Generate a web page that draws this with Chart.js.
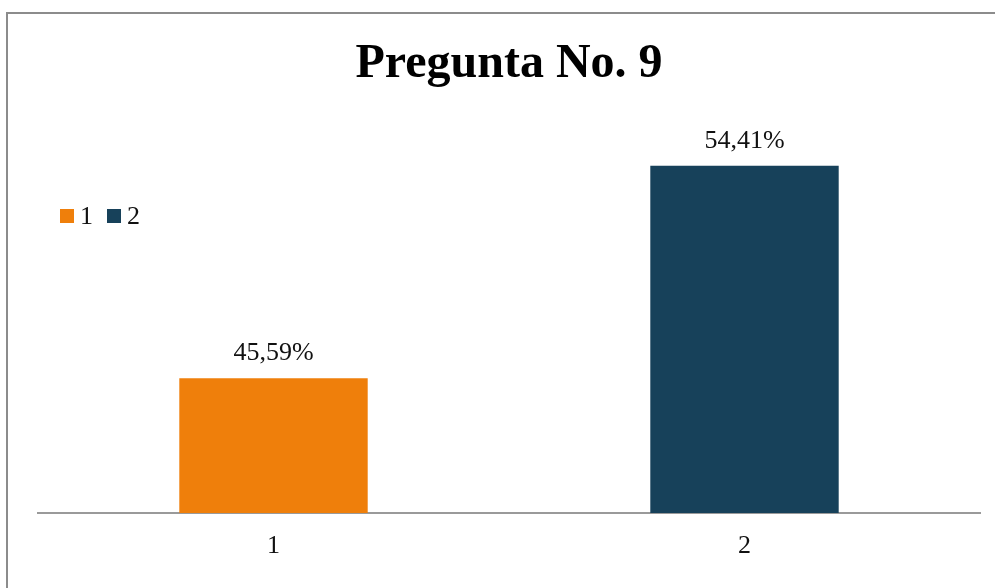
<!DOCTYPE html>
<html>
<head>
<meta charset="utf-8">
<style>
  html, body { margin: 0; padding: 0; background: #fff; }
  #wrap { position: relative; width: 995px; height: 588px; overflow: hidden; }
  canvas { display: block; }
</style>
<script src="https://cdn.jsdelivr.net/npm/chart.js@4/dist/chart.umd.min.js"></script>
</head>
<body>
<div id="wrap"><canvas id="chart" width="995" height="588"></canvas></div>
<script>
// Survey result for question 9
const chartTitle = 'Pregunta No. 9';
const categories = ['1', '2'];
const values = [45.59, 54.41];
const barColors = ['#EF7F0B', '#17415A'];

const serif = "'Liberation Serif', 'Times New Roman', serif";

// Percent format with comma decimal separator
const fmt = v => v.toFixed(2).replace('.', ',') + '%';

// Outer frame of the chart
const framePlugin = {
  id: 'frame',
  beforeDraw(chart) {
    const ctx = chart.ctx;
    ctx.save();
    ctx.strokeStyle = '#8c8c8c';
    ctx.lineWidth = 2;
    ctx.strokeRect(7, 13, chart.width + 20, chart.height + 20);
    ctx.restore();
  }
};

// Value labels above each bar
const valueLabels = {
  id: 'valueLabels',
  afterDatasetsDraw(chart) {
    const ctx = chart.ctx;
    const meta = chart.getDatasetMeta(0);
    ctx.save();
    ctx.font = '26px ' + serif;
    ctx.fillStyle = '#111';
    ctx.textAlign = 'center';
    ctx.textBaseline = 'alphabetic';
    meta.data.forEach((bar, i) => {
      ctx.fillText(fmt(values[i]), bar.x, bar.y - 18);
    });
    ctx.restore();
  }
};

// Horizontal legend overlaid at the upper left of the plot
const inlineLegend = {
  id: 'inlineLegend',
  afterDraw(chart) {
    const ctx = chart.ctx;
    ctx.save();
    ctx.font = '26px ' + serif;
    ctx.textBaseline = 'alphabetic';
    ctx.textAlign = 'left';
    let x = 60;
    const top = 209, size = 14, baseline = 224;
    categories.forEach((c, i) => {
      ctx.fillStyle = barColors[i];
      ctx.fillRect(x, top, size, size);
      ctx.fillStyle = '#111';
      ctx.fillText(c, x + 20, baseline);
      x += 20 + ctx.measureText(c).width + 14;
    });
    ctx.restore();
  }
};

new Chart(document.getElementById('chart'), {
  type: 'bar',
  data: {
    labels: categories,
    datasets: [{
      data: values,
      backgroundColor: barColors,
      borderWidth: 0,
      categoryPercentage: 1,
      barPercentage: 0.4
    }]
  },
  options: {
    responsive: false,
    animation: false,
    layout: { padding: { left: 38, right: 15, top: 0, bottom: 7.8 } },
    plugins: {
      legend: { display: false },
      tooltip: { enabled: false },
      title: {
        display: true,
        text: chartTitle,
        color: '#000',
        font: { family: serif, size: 48, weight: 'bold', lineHeight: 1.2 },
        padding: { top: 36.2, bottom: 33.6 }
      }
    },
    scales: {
      x: {
        grid: { display: false, drawTicks: false, tickLength: 0 },
        border: { display: true, color: '#9a9a9a', width: 2 },
        ticks: {
          color: '#111',
          padding: 18,
          font: { family: serif, size: 26, lineHeight: 1.2 }
        }
      },
      y: {
        display: false,
        min: 40,
        max: 56
      }
    }
  },
  plugins: [framePlugin, valueLabels, inlineLegend]
});
</script>
</body>
</html>
